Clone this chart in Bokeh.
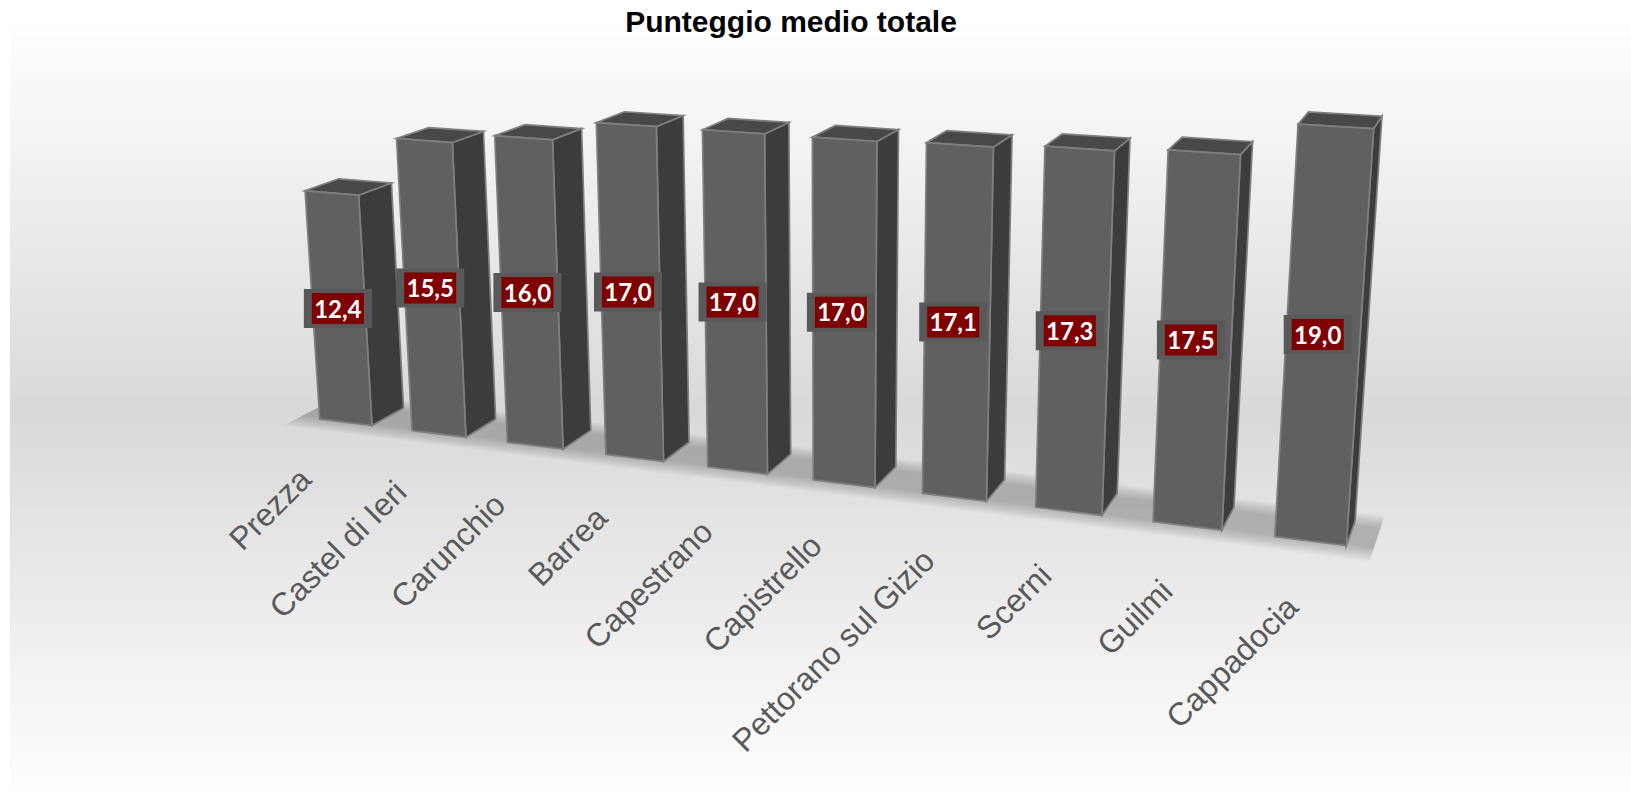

import numpy as np
from bokeh.plotting import figure
from bokeh.embed import file_html
from bokeh.resources import INLINE
from bokeh.core.properties import value

title = "Punteggio medio totale"
categories = ["Prezza", "Castel di Ieri", "Carunchio", "Barrea", "Capestrano",
              "Capistrello", "Pettorano sul Gizio", "Scerni", "Guilmi", "Cappadocia"]
values = [12.4, 15.5, 16.0, 17.0, 17.0, 17.0, 17.1, 17.3, 17.5, 19.0]

# camera of the 3D chart: (category position, value, depth) -> page pixels
CAMERA = np.array([[85.3259, -1.86499, 41.2498, 299.82],
                   [4.41582, -18.7827, -7.13968, 416.3],
                   [-0.01603, -0.00224007, 0.0250303, 1.0]])
GAP = 0.215

def project(X, Y, Z):
    h = CAMERA @ np.array([X, Y, Z, 1.0])
    return h[0] / h[2], h[1] / h[2]

def poly(corners):
    pts = [project(*c) for c in corners]
    return [q[0] for q in pts], [q[1] for q in pts]

p = figure(width=1631, height=803, x_range=(0, 1631), y_range=(803, 0),
           toolbar_location=None, output_backend="svg", min_border=0,
           background_fill_color="white", border_fill_color="white")
p.outline_line_color = None
p.axis.visible = False
p.grid.visible = False

# backdrop: white -> grey -> white, one strip per grey level, each painted to the
# bottom so that the next one covers it and no seam shows
top, mid, bot = 20, 410, 800
grey = 217
ys_all = np.arange(top, bot + 1)
lev = np.where(ys_all < mid,
               255 - (255 - grey) * (ys_all - top) / (mid - top),
               grey + (255 - grey) * (ys_all - mid) / (bot - mid)).round().astype(int)
start = 0
for k in range(1, len(lev) + 1):
    if k == len(lev) or lev[k] != lev[start]:
        c = int(lev[start])
        p.quad(left=10, right=1631, top=int(ys_all[start]), bottom=bot,
               fill_color=f"#{c:02x}{c:02x}{c:02x}", line_color=None)
        start = k

# soft floor shadow: nested bands across the depth of the floor
n_layers = 12
for k in range(n_layers):
    t = k / n_layers
    z1, z2 = -0.5 + 0.6 * t, 1.4 - 0.6 * t
    xs, ys = poly([(0, 0, z1), (10, 0, z1), (10, 0, z2), (0, 0, z2)])
    p.patch(xs, ys, fill_color="black", fill_alpha=0.0215, line_color=None)

# bars
for i, v in enumerate(values):
    l, r = i + GAP, i + 1 - GAP
    side = poly([(r, 0, 0), (r, v, 0), (r, v, 1), (r, 0, 1)])
    roof = poly([(l, v, 0), (r, v, 0), (r, v, 1), (l, v, 1)])
    front = poly([(l, 0, 0), (r, 0, 0), (r, v, 0), (l, v, 0)])
    for (xs, ys), col in ((side, "#3c3c3c"), (roof, "#484848"), (front, "#606060")):
        p.patch(xs, ys, fill_color=col, line_color="#7f7f7f", line_width=1.7, line_join="miter")

# data labels and category labels
for i, (v, name) in enumerate(zip(values, categories)):
    l, r = i + GAP, i + 1 - GAP
    fx, fy = poly([(l, 0, 0), (r, 0, 0), (r, v, 0), (l, v, 0)])
    cx = sum(fx) / 4 - 1 - 0.5 * i
    cy = sum(fy) / 4 + 0.8
    p.rect([cx], [cy], width=68, height=39, fill_color="#595959", line_color=None)
    p.rect([cx], [cy], width=52, height=31, fill_color="#7f0000", line_color=None)
    p.text([cx], [cy], text=[f"{v:.1f}".replace(".", ",")], text_color="white",
           text_font=value("Lato"), text_font_style="bold", text_font_size="24px",
           text_align="center", text_baseline="middle")
    bx, by = project((l + r) / 2, 0, 0)
    p.text([bx - 40.5 + 2.5 * i], [by + 51.5 + 1.0 * i], text=[name], angle=np.pi / 4,
           text_color="#595959", text_font=value("Liberation Sans"), text_font_size="32px",
           text_align="right", text_baseline="middle")

p.text([790.5], [20.5], text=[title], text_color="black", text_font=value("Liberation Sans"),
       text_font_style="bold", text_font_size="30px", text_align="center", text_baseline="middle")

open("out.html", "w").write(file_html(p, INLINE))
